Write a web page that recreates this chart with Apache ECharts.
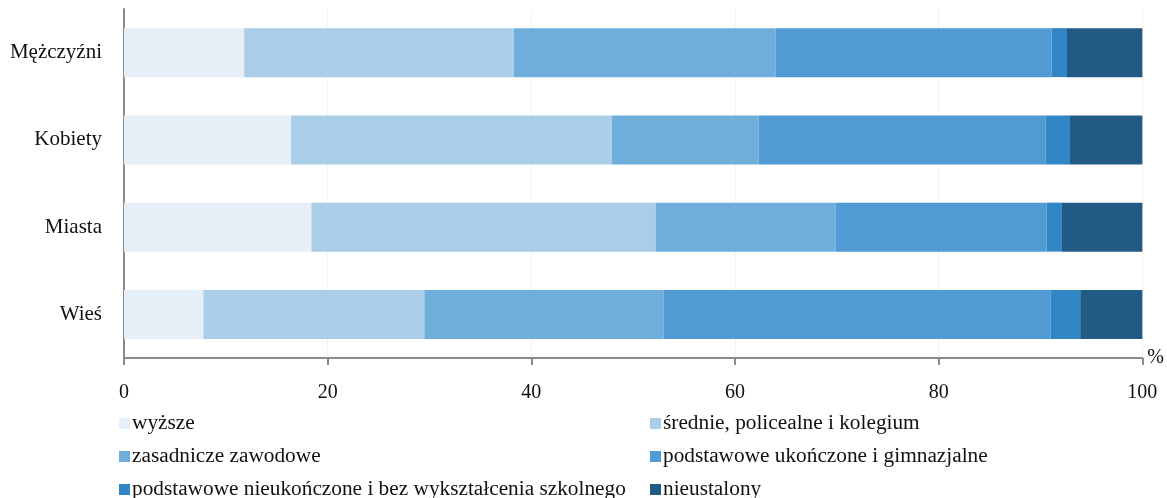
<!DOCTYPE html>
<html>
<head>
<meta charset="utf-8">
<script src="https://cdn.jsdelivr.net/npm/echarts@6/dist/echarts.min.js"></script>
<style>
  html, body { margin: 0; padding: 0; background: #fff; }
  #chart { width: 1167px; height: 498px; }
</style>
</head>
<body>
<div id="chart"></div>
<script>
// dane: struktura wykształcenia (%)
const categories = ['Mężczyźni', 'Kobiety', 'Miasta', 'Wieś']
const seriesNames = [
  'wyższe',
  'średnie, policealne i kolegium',
  'zasadnicze zawodowe',
  'podstawowe ukończone i gimnazjalne',
  'podstawowe nieukończone i bez wykształcenia szkolnego',
  'nieustalony'
]
const wyzsze = [11.8, 16.4, 18.4, 7.8]
const srednie = [26.5, 31.5, 33.8, 21.7]
const zasadnicze = [25.7, 14.4, 17.7, 23.5]
const podstUkonczone = [27.1, 28.2, 20.7, 38.0]
const podstNieukonczone = [1.5, 2.4, 1.5, 2.9]
const nieustalony = [7.4, 7.1, 7.9, 6.1]
const xTicks = [0, 20, 40, 60, 80, 100]

const values = [wyzsze, srednie, zasadnicze, podstUkonczone, podstNieukonczone, nieustalony]
const colors = ['#e6eff8', '#aacde8', '#6faddb', '#509bd3', '#3186c5', '#225a86']

const font = 'Liberation Serif'
let myChart = echarts.init(document.getElementById('chart'))

// legenda w dwóch kolumnach
function legendColumn(left, names) {
  return {
    orient: 'vertical',
    left: left,
    top: 408,
    height: 120,
    itemWidth: 11,
    itemHeight: 11,
    itemGap: 12,
    icon: 'rect',
    textStyle: { fontFamily: font, fontSize: 21.3, color: '#111', padding: [0, 0, 0, -3] },
    data: names
  }
}

let option = {
  animation: false,
  color: colors,
  textStyle: { fontFamily: font },
  grid: { left: 124, right: 24, top: 9, bottom: 140 },
  legend: [
    legendColumn(114, [seriesNames[0], seriesNames[2], seriesNames[4]]),
    legendColumn(645, [seriesNames[1], seriesNames[3], seriesNames[5]])
  ],
  xAxis: {
    type: 'value',
    min: 0,
    max: 100,
    interval: 20,
    name: '%',
    nameLocation: 'end',
    nameGap: 5,
    nameTextStyle: { fontFamily: font, fontSize: 20, color: '#111' },
    axisLine: { show: true, lineStyle: { color: '#8a8a8a', width: 2 } },
    axisTick: { show: true, length: 7, lineStyle: { color: '#8a8a8a', width: 2 } },
    axisLabel: {
      margin: 25,
      fontFamily: font,
      fontSize: 20,
      color: '#111',
      formatter: function (v) { return xTicks.indexOf(v) >= 0 ? String(v) : '' }
    },
    splitLine: { show: true, lineStyle: { color: '#f2f2f2', width: 1 } }
  },
  yAxis: {
    type: 'category',
    inverse: true,
    data: categories,
    axisLine: { show: true, lineStyle: { color: '#8a8a8a', width: 2 } },
    axisTick: { show: false },
    axisLabel: { margin: 22, fontFamily: font, fontSize: 21, color: '#111' }
  },
  series: seriesNames.map(function (name, i) {
    return {
      name: name,
      type: 'bar',
      stack: 'total',
      barWidth: 49,
      data: values[i]
    }
  })
}
myChart.setOption(option)
</script>
</body>
</html>
